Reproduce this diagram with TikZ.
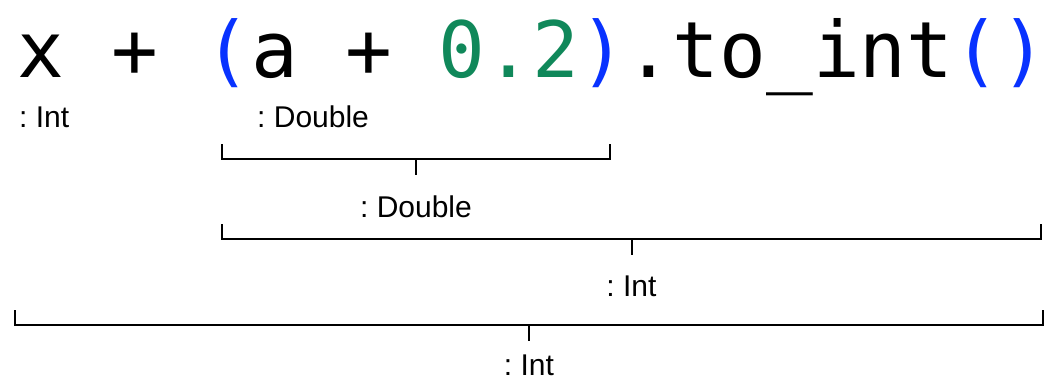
\documentclass[tikz,border=0pt]{standalone}
\usepackage{fontspec}
\setmainfont{Liberation Sans}
\newfontfamily\codefont{DejaVu Sans Mono}
\usepackage{tikz}
\usetikzlibrary{positioning, calc}
\definecolor{parenblue}{RGB}{8,50,255}
\definecolor{numgreen}{RGB}{16,136,90}
\frenchspacing

\begin{document}
\begin{tikzpicture}[
    x=1bp, y=-1bp,
    code/.style={inner sep=0pt, anchor=base west, font=\codefont\fontsize{77.7bp}{80bp}\selectfont},
    typ/.style={inner sep=0pt, font=\fontsize{30bp}{32bp}\selectfont},
    brk/.style={line width=2bp}
]
    \useasboundingbox (0,0) rectangle (1046,384);

    \node[code] (expr) at (17.6,77) {x + \textcolor{parenblue}{(}a + \textcolor{numgreen}{0.2}\textcolor{parenblue}{)}.to\_int\textcolor{parenblue}{()}};

    \node[typ, anchor=base west] (xtype) at (19,127) {: Int};
    \node[typ, anchor=base west] (atype) at (257,127) {: Double};

    % spans of the sub-expressions
    \coordinate (s1l) at (222,159); \coordinate (s1r) at (610,159);
    \coordinate (s2l) at (222,239); \coordinate (s2r) at (1041,239);
    \coordinate (s3l) at (15,325);  \coordinate (s3r) at (1043,325);

    \foreach \s in {s1,s2,s3} {
        \draw[brk] ($(\s l)+(0,-15)$) -- (\s l) -- (\s r) -- ($(\s r)+(0,-15)$);
        \coordinate (\s m) at ($(\s l)!0.5!(\s r)$);
        \draw[brk] (\s m) -- ++(0,16) coordinate (\s t);
    }

    \node[typ, below=21bp of s1t] (sumtype) {: Double};
    \node[typ, below=21bp of s2t] (calltype) {: Int};
    \node[typ, below=14bp of s3t] (alltype) {: Int};
\end{tikzpicture}
\end{document}
